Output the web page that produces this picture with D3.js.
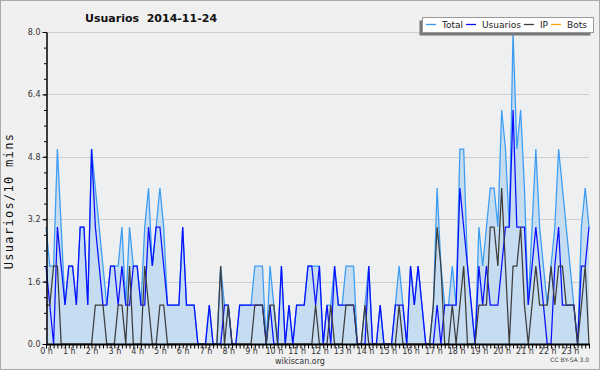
<!DOCTYPE html>
<html><head><meta charset="utf-8">
<script src="https://cdn.jsdelivr.net/npm/d3@7"></script>
<style>body{margin:0;background:#f0f0f0}svg{display:block}</style>
</head><body><svg id="c" width="600" height="370"></svg>
<script>
const title = "Usuarios  2014-11-24";
const yTitle = "Usuarios/10 mins";
const seriesNames = ["Total", "Usuarios", "IP", "Bots"];
const hourLabels = ["0 h","1 h","2 h","3 h","4 h","5 h","6 h","7 h","8 h","9 h","10 h","11 h",
  "12 h","13 h","14 h","15 h","16 h","17 h","18 h","19 h","20 h","21 h","22 h","23 h"];
const yTicks = [0, 1.6, 3.2, 4.8, 6.4, 8.0];

// 10-minute intervals, 144 per day
const total = [
  3,2,2,5,3,1,2,2,1,3,3,1,
  5,4,3,2,1,2,2,2,3,1,3,2,
  2,1,3,4,2,3,4,3,1,1,1,1,
  3,1,1,1,0,0,0,1,0,0,2,1,
  1,0,0,1,1,1,1,2,2,2,0,2,
  1,0,2,0,1,0,1,1,1,2,2,2,
  2,0,1,1,2,1,1,2,2,2,0,0,
  1,2,0,0,1,0,0,0,1,2,1,0,
  2,1,2,1,0,0,1,4,2,1,1,2,
  1,5,5,2,1,0,3,2,3,4,4,3,
  6,5,3,8,5,6,4,1,3,5,3,2,
  1,2,3,5,4,3,2,1,0,3,4,3];
const usuarios = [
  2,1,0,3,2,1,2,2,1,3,3,1,
  5,3,2,1,1,2,2,1,2,1,1,2,
  2,1,1,3,2,3,3,2,1,1,1,1,
  3,1,1,1,0,0,0,1,0,0,0,1,
  1,0,0,1,1,1,1,1,1,1,0,1,
  0,0,2,0,1,0,1,1,1,2,2,1,
  2,0,1,0,2,1,1,1,1,1,0,0,
  0,2,0,0,1,0,0,0,1,1,1,0,
  2,1,2,1,0,0,0,1,0,1,1,1,
  1,4,3,2,1,0,2,1,2,1,1,1,
  2,3,3,6,3,3,3,1,2,3,2,1,
  0,0,2,3,1,1,1,1,0,2,2,3];
const ip = [
  1,1,2,2,0,0,0,0,0,0,0,0,
  0,1,1,1,0,0,0,1,1,0,2,0,
  0,0,2,1,0,0,1,1,0,0,0,0,
  0,0,0,0,0,0,0,0,0,0,2,0,
  1,0,0,0,0,0,0,1,1,1,0,1,
  1,0,0,0,0,0,0,0,0,0,0,1,
  0,0,0,1,0,0,0,1,1,1,0,0,
  1,0,0,0,0,0,0,0,0,1,0,0,
  0,0,0,0,0,0,1,3,2,0,0,1,
  0,1,2,0,0,0,1,1,1,3,3,2,
  4,2,0,2,2,3,1,0,1,2,1,1,
  1,2,1,2,2,1,1,1,0,1,2,0];
const bots = [
  0,0,0,0,0,0,0,0,0,0,0,0,
  0,0,0,0,0,0,0,0,0,0,0,0,
  0,0,0,0,0,0,0,0,0,0,0,0,
  0,0,0,0,0,0,0,0,0,0,0,0,
  0,0,0,0,0,0,0,0,0,0,0,0,
  0,0,0,0,0,0,0,0,0,0,0,0,
  0,0,0,0,0,0,0,0,0,0,0,0,
  0,0,0,0,0,0,0,0,0,0,0,0,
  0,0,0,0,0,0,0,0,0,0,0,0,
  0,0,0,0,0,0,0,0,0,0,0,0,
  0,0,0,0,0,0,0,0,0,0,0,0,
  0,0,0,0,0,0,0,0,0,0,0,0];

const colors = {Total:"#3a9cf2", Usuarios:"#0a10ff", IP:"#3c3c3c", Bots:"#ff9f10"};
const seriesData = {Total: total, Usuarios: usuarios, IP: ip, Bots: bots};

const svg = d3.select("#c");
const W = 600, H = 370;
const L = 46, R = 589, T = 32, B = 344;

svg.append("rect").attr("x",0.5).attr("y",0.5).attr("width",W-1).attr("height",H-1)
  .attr("fill","#f0f0f0").attr("stroke","#aaaaaa");
svg.append("rect").attr("x",L).attr("y",T).attr("width",R-L).attr("height",B-T).attr("fill","#eeeff1");

const x = d3.scaleLinear().domain([0, total.length-1]).range([L, R]);
const y = d3.scaleLinear().domain([0, 8]).range([B, T]);

// grid
svg.append("g").selectAll("line").data(yTicks.filter(d=>d>0)).join("line")
  .attr("x1",L).attr("x2",R).attr("y1",d=>Math.round(y(d))+0.5).attr("y2",d=>Math.round(y(d))+0.5)
  .attr("stroke","#cfcfcf").attr("stroke-width",1);

// bots line (underneath everything)
const line = d3.line().x((d,i)=>x(i)).y(d=>y(d));
svg.append("path").datum(bots).attr("d", line)
  .attr("fill","none").attr("stroke",colors.Bots).attr("stroke-width",1.2);

// area under total
svg.append("path").datum(total)
  .attr("d", d3.area().x((d,i)=>x(i)).y0(y(0)).y1(d=>y(d)))
  .attr("fill","#c6dcf0");

["Total","Usuarios","IP"].forEach(k=>{
  svg.append("path").datum(seriesData[k]).attr("d", line)
    .attr("fill","none").attr("stroke",colors[k]).attr("stroke-width",1.25)
    .attr("stroke-linejoin","miter");
});

// y axis
const yMinor = d3.range(0, 8.001, 0.4);
svg.append("g").attr("transform",`translate(${L+0.5},0)`)
  .call(d3.axisLeft(y).tickValues(yMinor).tickSize(2.5).tickSizeOuter(0).tickFormat(""))
  .call(g=>g.selectAll("line,path").attr("stroke","#000"));
const ya = svg.append("g").attr("transform",`translate(${L+0.5},0)`)
  .call(d3.axisLeft(y).tickValues(yTicks).tickSize(4).tickSizeOuter(0).tickPadding(2)
    .tickFormat(d=>d3.format(".1f")(d)));
ya.selectAll("line,path").attr("stroke","#000");
ya.selectAll("text").attr("font-family","DejaVu Sans").attr("font-size","8px").attr("fill","#333");

// x axis
const xa = svg.append("g").attr("transform",`translate(0,${B})`)
  .call(d3.axisBottom(x).tickValues(d3.range(0, total.length)).tickSize(4.5).tickSizeOuter(0).tickPadding(0)
    .tickFormat(i => i % 6 === 0 ? hourLabels[i/6] : ""));
xa.selectAll("line,path").attr("stroke","#000");
xa.select(".domain").attr("stroke-width",1.8);
xa.selectAll("text").attr("font-family","DejaVu Sans").attr("font-size","8px").attr("fill","#333");

// title
svg.append("text").attr("x",85).attr("y",21.5).attr("font-family","DejaVu Sans")
  .attr("font-weight","bold").attr("font-size","11px").attr("fill","#111")
  .style("white-space","pre").text(title);

// y title
svg.append("text").attr("transform","translate(13.3,201) rotate(-90)")
  .attr("text-anchor","middle").attr("font-family","DejaVu Sans Mono").attr("font-size","12px")
  .attr("letter-spacing","1.3px").attr("fill","#111").text(yTitle);

// footer
svg.append("text").attr("x",300).attr("y",364).attr("text-anchor","middle")
  .attr("font-family","DejaVu Sans").attr("font-size","8px").attr("fill","#333").text("wikiscan.org");
svg.append("text").attr("x",589).attr("y",362).attr("text-anchor","end")
  .attr("font-family","DejaVu Sans").attr("font-size","6px").attr("fill","#444").text("CC BY-SA 3.0");

// legend
svg.append("rect").attr("x",419.5).attr("y",20.5).attr("width",171).attr("height",15).attr("fill","#777");
svg.append("rect").attr("x",422.5).attr("y",17.5).attr("width",171).attr("height",15)
  .attr("fill","#fff").attr("stroke","#999");
let lx = 426;
seriesNames.forEach(n=>{
  svg.append("line").attr("x1",lx).attr("x2",lx+10).attr("y1",24.5).attr("y2",24.5)
    .attr("stroke",colors[n]).attr("stroke-width",1.3);
  const t = svg.append("text").attr("x",lx+16).attr("y",28).attr("font-family","DejaVu Sans")
    .attr("font-size","9px").attr("fill","#222").text(n);
  lx += 16 + t.node().getComputedTextLength() + 3;
});
</script></body></html>
